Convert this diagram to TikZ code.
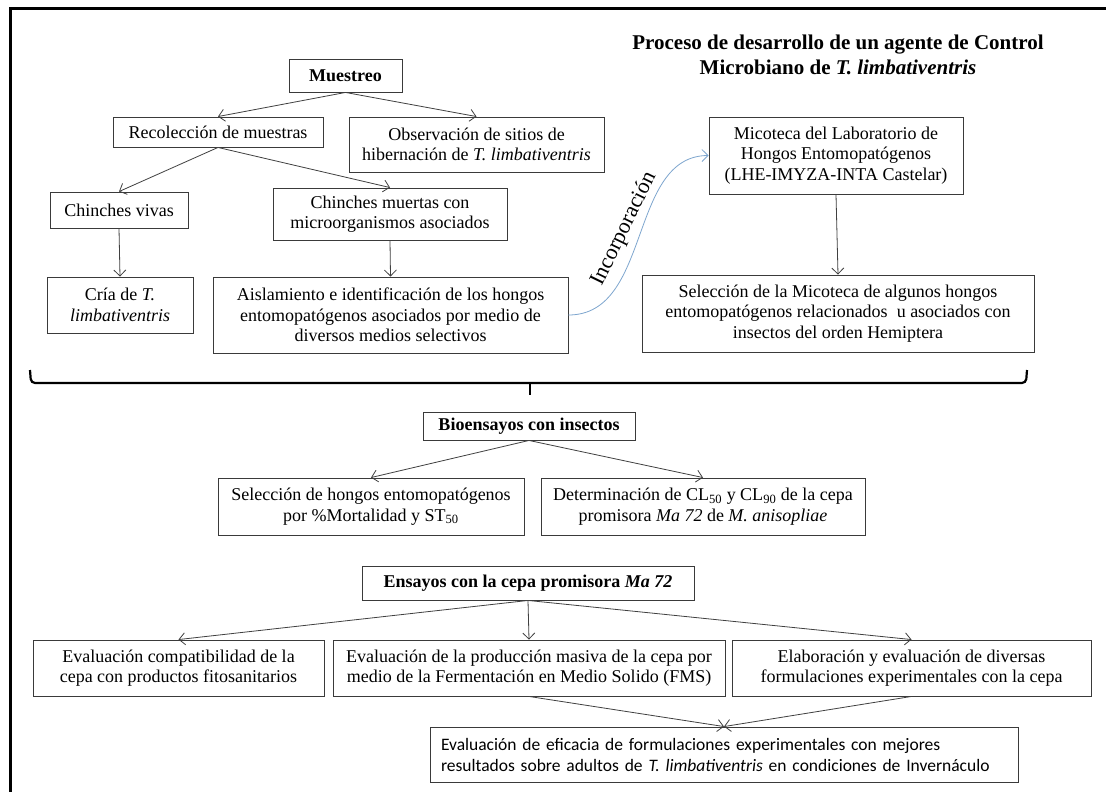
\documentclass[tikz,border=0pt]{standalone}
\usepackage{fontspec}
\setmainfont{Liberation Serif}
\newfontfamily\calibrifont{Carlito}
\usetikzlibrary{arrows.meta}
\definecolor{boxc}{HTML}{3A3A3A}
\definecolor{linec}{HTML}{404040}
\definecolor{curvec}{HTML}{7EA6CF}
\newcommand{\bodyfont}{\fontsize{18}{20.5}\selectfont}
\tikzset{
  box/.style={draw=boxc, line width=0.9pt, inner sep=0pt, align=center, font=\bodyfont, text=black},
  arr/.style={draw=linec, line width=0.8pt, -{Straight Barb[length=6pt,width=12pt]}},
}
% name, x1, y1, x2, y2, text
\newcommand{\mybox}[6]{%
  \node[box, minimum width={#4-#2}, minimum height={#5-#3}] (#1) at ({(#2+#4)/2},{(#3+#5)/2}) {#6};}
\begin{document}
\begin{tikzpicture}[x=1pt,y=-1pt]
\useasboundingbox (0,0) rectangle (1106,792);
\fill[white] (0,0) rectangle (1106,792);
% frame
\draw[line width=3pt] (10,800) -- (10,9) -- (1110,9);
% title
\node[font=\bfseries\fontsize{21}{25}\selectfont, align=center] (title) at (838,55)
  {Proceso de desarrollo de un agente de Control\\Microbiano de \textit{T. limbativentris}};
% boxes
\mybox{mue}{289}{59}{402}{92}{\textbf{Muestreo}}
\mybox{rec}{113}{117}{323}{147}{Recolección de muestras}
\mybox{obs}{349}{117}{604}{172}{Observación de sitios de\\hibernación de \textit{T. limbativentris}}
\mybox{viv}{50}{192}{188}{228}{Chinches vivas}
\mybox{mrt}{273}{188}{507}{240}{Chinches muertas con\\microorganismos asociados}
\mybox{cria}{47}{277}{193}{333}{Cría de \textit{T.}\\\textit{limbativentris}}
\mybox{ais}{213}{277}{568}{353}{Aislamiento e identificación de los hongos\\entomopatógenos asociados por medio de\\diversos medios selectivos}
\mybox{mic}{709}{117}{963}{194}{Micoteca del Laboratorio de\\Hongos Entomopatógenos\\(LHE-IMYZA-INTA Castelar)}
\mybox{selm}{642}{275}{1034}{352}{Selección de la Micoteca de algunos hongos\\entomopatógenos relacionados\ \ u asociados con\\insectos del orden Hemiptera}
\mybox{bio}{423}{412}{635}{440}{\textbf{Bioensayos con insectos}}
\mybox{selh}{218}{478}{524}{535}{Selección de hongos entomopatógenos\\por \%Mortalidad y ST\textsubscript{50}}
\mybox{det}{541}{478}{865}{535}{Determinación de CL\textsubscript{50} y CL\textsubscript{90} de la cepa\\promisora \textit{Ma 72} de \textit{M. anisopliae}}
\mybox{ens}{362}{566}{694}{600}{\textbf{Ensayos con la cepa promisora \textit{Ma 72}}}
\mybox{com}{33}{640}{324}{696}{Evaluación compatibilidad de la\\cepa con productos fitosanitarios}
\mybox{pro}{333}{640}{725}{696}{Evaluación de la producción masiva de la cepa por\\medio de la Fermentación en Medio Solido (FMS)}
\mybox{ela}{732}{640}{1091}{696}{Elaboración y evaluación de diversas\\formulaciones experimentales con la cepa}
\node[box, font=\calibrifont\fontsize{17.5}{21}\selectfont, align=left, text width=566pt, inner xsep=11pt, minimum height=55pt] (fin) at (724,754.5)
  {Evaluación de eficacia de formulaciones experimentales con mejores\\resultados sobre adultos de \textit{T. limbativentris} en condiciones de Invernáculo};
% brace
\coordinate (bl) at (30,370);
\coordinate (br) at (1027,370);
\coordinate (bm) at (530,383);
\coordinate (bt) at (530,395);
\draw[line width=2.2pt, rounded corners=4pt] (bl) -- (31,383) -- (1026,383) -- (br);
\draw[line width=2.2pt] (bm) -- (bt);
% arrows
\draw[arr] (mue.south) -- (rec.north);
\draw[arr] (mue.south) -- (obs.north);
\draw[arr] (rec.south) -- (viv.north);
\draw[arr] (rec.south) -- (mrt.north);
\draw[arr] (viv.south) -- (cria.north);
\draw[arr] (mrt.south) -- (ais.north);
\draw[arr] (mic.south) -- (selm.north);
\draw[arr] (bio.south) -- (selh.north);
\draw[arr] (bio.south) -- (det.north);
\draw[arr] (ens.south) -- (com.north);
\draw[arr] (ens.south) -- (pro.north);
\draw[arr] (ens.south) -- (ela.north);
\draw[arr] (pro.south) -- (fin.north);
\draw[arr] (ela.south) -- (fin.north);
% incorporacion curve
\draw[arr, draw=curvec] (ais.east) .. controls (652,315) and (628,156) .. (mic.west);
\node[rotate=64, font=\fontsize{22}{24}\selectfont] (inc) at (624,229) {Incorporación};
\end{tikzpicture}
\end{document}
